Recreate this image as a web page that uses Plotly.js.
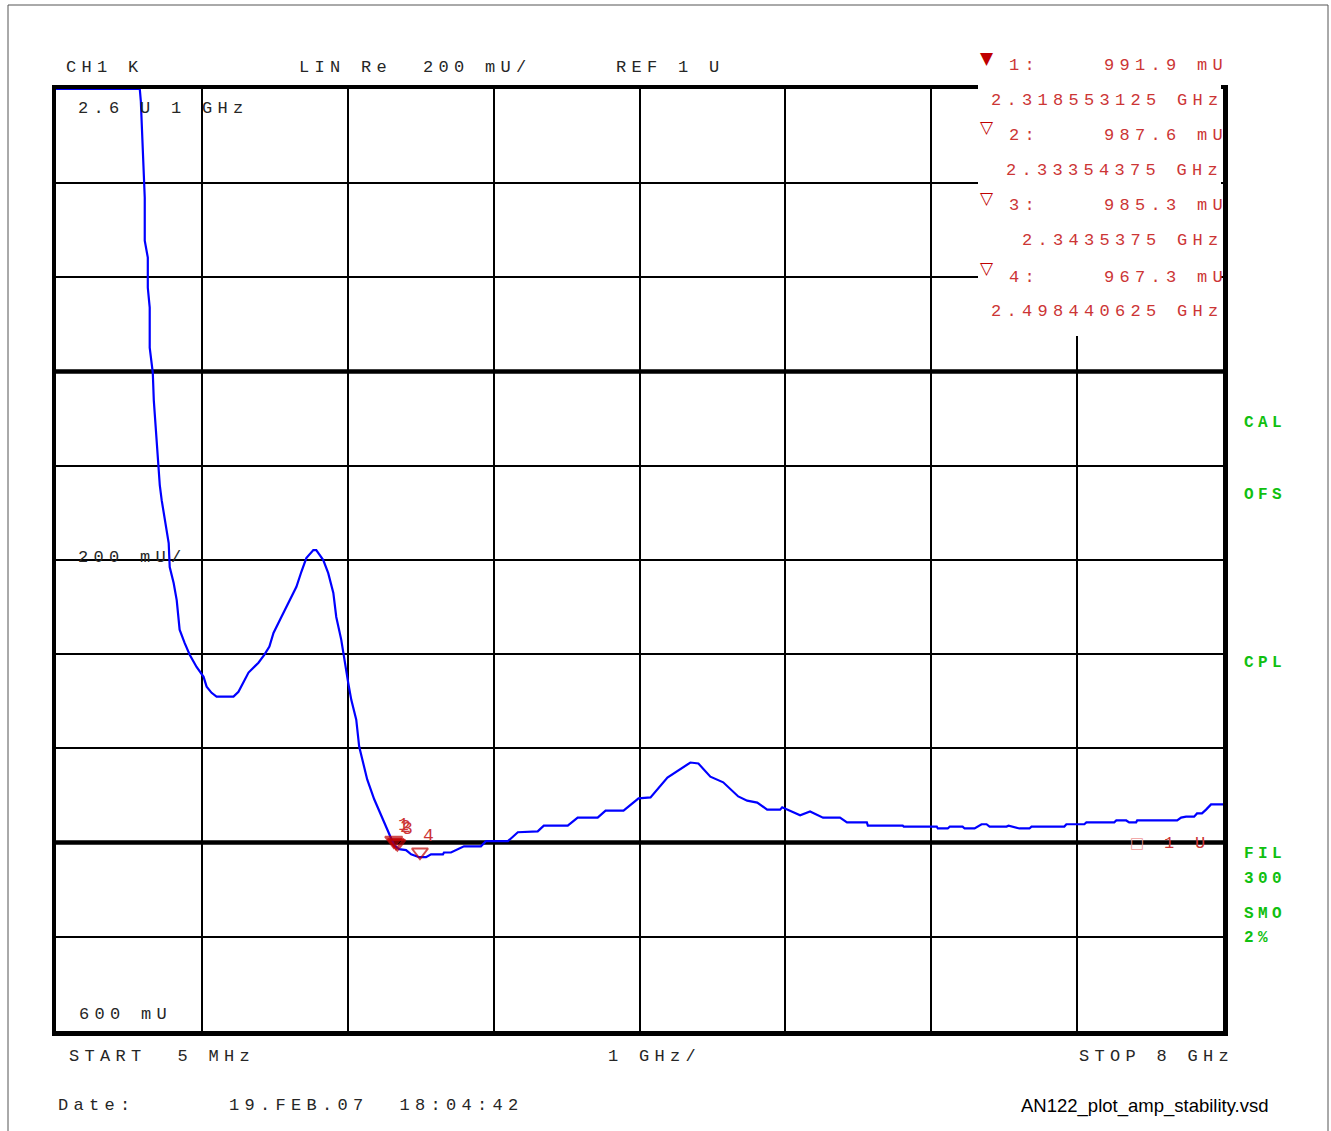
<!DOCTYPE html>
<html>
<head>
<meta charset="utf-8">
<script src="https://cdn.plot.ly/plotly-3.0.1.min.js"></script>
<style>html,body{margin:0;padding:0;background:#fff;}</style>
</head>
<body>
<div id="chart" style="width:1331px;height:1131px;"></div>
<script>
// ---------------- data ----------------
const freqGHz = [
  0.005,0.579,0.586,0.593,0.606,0.613,0.613,0.634,0.634,0.647,
  0.647,0.668,0.675,0.688,0.702,0.716,0.729,0.750,0.777,0.784,
  0.811,0.832,0.845,0.852,0.886,0.921,0.968,1.016,1.037,1.071,
  1.105,1.221,1.255,1.296,1.324,1.392,1.433,1.467,1.495,1.549,
  1.604,1.652,1.686,1.720,1.768,1.788,1.836,1.870,1.905,1.925,
  1.959,1.980,2.007,2.028,2.062,2.082,2.110,2.137,2.185,2.246,
  2.287,2.322,2.356,2.403,2.438,2.492,2.540,2.574,2.656,2.663,
  2.711,2.759,2.800,2.916,2.950,3.101,3.169,3.305,3.347,3.511,
  3.579,3.716,3.770,3.893,3.996,4.078,4.194,4.351,4.406,4.488,
  4.576,4.679,4.740,4.809,4.877,4.966,4.980,5.103,5.171,5.260,
  5.376,5.424,5.560,5.567,5.806,5.813,6.039,6.046,6.114,6.128,
  6.216,6.230,6.298,6.346,6.380,6.401,6.517,6.531,6.606,6.674,
  6.688,6.913,6.927,7.050,7.064,7.255,7.269,7.337,7.357,7.405,
  7.412,7.686,7.713,7.747,7.802,7.822,7.856,7.884,7.918,8.000
];
const valueU = [
  2.600,2.600,2.575,2.517,2.447,2.369,2.278,2.242,2.178,2.136,
  2.051,1.998,1.939,1.875,1.812,1.759,1.727,1.685,1.636,1.585,
  1.551,1.515,1.479,1.452,1.424,1.399,1.373,1.352,1.331,1.318,
  1.310,1.310,1.320,1.346,1.361,1.382,1.399,1.416,1.445,1.479,
  1.515,1.543,1.575,1.604,1.621,1.621,1.600,1.572,1.530,1.479,
  1.431,1.388,1.339,1.303,1.261,1.204,1.166,1.134,1.092,1.049,
  1.017,0.994,0.986,0.984,0.975,0.969,0.969,0.975,0.975,0.979,
  0.979,0.986,0.992,0.992,1.003,1.003,1.022,1.024,1.036,1.036,
  1.053,1.053,1.068,1.068,1.094,1.096,1.138,1.170,1.168,1.140,
  1.128,1.098,1.089,1.085,1.070,1.070,1.075,1.058,1.066,1.053,
  1.053,1.043,1.043,1.036,1.036,1.034,1.034,1.030,1.030,1.034,
  1.034,1.030,1.030,1.039,1.039,1.034,1.034,1.036,1.030,1.030,
  1.034,1.034,1.039,1.039,1.043,1.043,1.047,1.047,1.043,1.043,
  1.047,1.047,1.053,1.055,1.055,1.062,1.062,1.070,1.081,1.081
];
const markerNames   = ['1', '2', '3', '4'];
const markerFreqGHz = [2.318553125, 2.33354375, 2.3435375, 2.498440625];
const markerValueU  = [0.9919, 0.9876, 0.9853, 0.9673];

const startGHz = 0.005, stopGHz = 8, freqDivs = 8;
const topU = 2.6, bottomU = 0.6, perDivU = 0.2;
const thickLevelsU = [1.0, 2.0];

const headerLabels = ['CH1 K', 'LIN Re  200 mU/', 'REF 1 U'];
const scaleLabels  = ['2.6 U 1 GHz', '200 mU/', '600 mU'];
const footerLabels = ['START  5 MHz', '1 GHz/', 'STOP 8 GHz'];
const dateLabels   = ['Date:', '19.FEB.07  18:04:42'];
const fileLabel    = 'AN122_plot_amp_stability.vsd';
const statusLabels = ['CAL', 'OFS', 'CPL', 'FIL', '300', 'SMO', '2%'];
const refLabel     = '1 U';

// ---------------- layout helpers ----------------
const W = 1331, H = 1131;
const PL = 56, PR = 1223, PT = 89, PB = 1031;
const px2x = p => (p - PL) / (PR - PL);
const py2y = p => (PB - p) / (PB - PT);
const MONO = 'Liberation Mono';
const ADV = 10.2, SP = 5.3, PITCH = ADV + SP;

function spaced(t, s) {
  return '<span style="letter-spacing:' + s + 'px">' + t.replace(/ /g, '\u00A0') + '</span>';
}
function monoText(t, xpx, ypx, color, size, s) {
  return {
    text: spaced(t, s === undefined ? SP : s), xref: 'paper', yref: 'paper',
    x: px2x(xpx), y: py2y(ypx), xanchor: 'left', yanchor: 'middle',
    showarrow: false, borderpad: 0,
    font: {family: MONO, size: size || 17, color: color || '#262626'}
  };
}

const annotations = [];
// header
annotations.push(monoText(headerLabels[0], 65, 68));
annotations.push(monoText(headerLabels[1], 298, 68));
annotations.push(monoText(headerLabels[2], 615, 68));
// scale labels inside plot
annotations.push(monoText(scaleLabels[0], 77, 108));
annotations.push(monoText(scaleLabels[1], 77, 557));
annotations.push(monoText(scaleLabels[2], 78, 1014));
// footer
annotations.push(monoText(footerLabels[0], 68, 1056));
annotations.push(monoText(footerLabels[1], 607, 1056));
annotations.push(monoText(footerLabels[2], 1078, 1056));
annotations.push(monoText(dateLabels[0], 57, 1105));
annotations.push(monoText(dateLabels[1], 228, 1105));
annotations.push({
  text: fileLabel, xref: 'paper', yref: 'paper', x: px2x(1270), y: py2y(1106),
  xanchor: 'right', yanchor: 'middle', showarrow: false, borderpad: 0,
  font: {family: 'Liberation Sans', size: 18.5, color: '#000'}
});

// marker readout (red)
const RED = '#cc3535', DARKRED = '#c00000';
const rowY = [[66, 100], [135, 170], [206, 241], [277, 312]];
const triY = [58, 127, 198, 268];
markerNames.forEach((n, i) => {
  annotations.push({
    text: i === 0 ? '\u25BC' : '\u25BD', xref: 'paper', yref: 'paper',
    x: px2x(987), y: py2y(triY[i]), xanchor: 'center', yanchor: 'middle',
    showarrow: false, borderpad: 0,
    font: {family: 'DejaVu Sans', size: 17, color: DARKRED, weight: 'bold'}
  });
  annotations.push(monoText(n + ':', 1008, rowY[i][0], RED));
  const v = (markerValueU[i] * 1000).toFixed(1) + ' mU';
  annotations.push(monoText(v, 1222 - ADV - (v.length - 1) * PITCH, rowY[i][0], RED));
  const f = String(markerFreqGHz[i]) + ' GHz';
  annotations.push(monoText(f, 1217 - ADV - (f.length - 1) * PITCH, rowY[i][1], RED));
  // marker number next to the marker on the trace
  annotations.push({
    text: n, xref: 'x', yref: 'y', x: markerFreqGHz[i], y: markerValueU[i],
    xshift: i === 3 ? 9 : 10, yshift: i === 3 ? 22 : 21,
    xanchor: 'center', yanchor: 'middle', showarrow: false, borderpad: 0,
    font: {family: MONO, size: 18, color: RED}
  });
});

// reference level indicator
annotations.push({
  text: '\u25A1', xref: 'paper', yref: 'paper', x: px2x(1137), y: py2y(843),
  xanchor: 'center', yanchor: 'middle', showarrow: false, borderpad: 0,
  font: {family: 'DejaVu Sans', size: 15, color: '#f09a9a'}
});
annotations.push(monoText(refLabel, 1163, 843, RED));

// status labels (green, bold)
const statusY = [423, 495, 663, 854, 879, 914, 938];
statusLabels.forEach((s, i) => {
  annotations.push({
    text: '<b>' + spaced(s, 4.4) + '</b>', xref: 'paper', yref: 'paper',
    x: px2x(1243), y: py2y(statusY[i]), xanchor: 'left', yanchor: 'middle',
    showarrow: false, borderpad: 0,
    font: {family: 'Liberation Mono', size: 16, color: '#10c010', weight: 'bold'}
  });
});

// shapes
const shapes = [];
thickLevelsU.forEach(v => shapes.push({
  type: 'line', xref: 'paper', yref: 'y', x0: 0, x1: 1, y0: v, y1: v,
  line: {color: '#000', width: 4.5}, layer: 'between'
}));
// white boxes behind in-plot labels (hide grid, keep trace)
shapes.push({type: 'rect', xref: 'paper', yref: 'paper',
  x0: px2x(195), x1: px2x(210), y0: py2y(118), y1: py2y(90),
  fillcolor: '#fff', line: {width: 0}, layer: 'between'});
shapes.push({type: 'rect', xref: 'paper', yref: 'paper',
  x0: px2x(65), x1: px2x(177), y0: py2y(570), y1: py2y(550),
  fillcolor: '#fff', line: {width: 0}, layer: 'between'});
// marker readout box
shapes.push({type: 'rect', xref: 'paper', yref: 'paper',
  x0: px2x(978), x1: px2x(1221), y0: py2y(336), y1: py2y(83),
  fillcolor: '#fff', line: {width: 0}, layer: 'above'});
// outer frame
shapes.push({type: 'rect', xref: 'paper', yref: 'paper',
  x0: px2x(8), x1: px2x(1328), y0: py2y(1140), y1: py2y(5),
  fillcolor: 'rgba(0,0,0,0)', line: {color: '#555', width: 1}, layer: 'above'});

const traces = [
  {
    x: freqGHz, y: valueU, type: 'scatter', mode: 'lines',
    line: {color: '#0000ff', width: 2.2}, hoverinfo: 'skip'
  },
  {
    x: markerFreqGHz, y: markerValueU, type: 'scatter', mode: 'markers',
    cliponaxis: false,
    marker: {
      symbol: ['triangle-up', 'triangle-up-open', 'triangle-up-open', 'triangle-up-open'],
      angle: 180, standoff: 6,
      size: [15, 14, 14, 14], color: DARKRED, line: {color: DARKRED, width: 2}
    },
    hoverinfo: 'skip'
  }
];

const axisCommon = {
  showgrid: true, gridcolor: '#000', gridwidth: 2,
  showline: true, linecolor: '#000', linewidth: 4.5, mirror: true,
  showticklabels: false, ticks: '', zeroline: false, fixedrange: true,
  layer: 'below traces'
};

const layout = {
  width: W, height: H,
  margin: {l: PL, r: W - PR, t: PT, b: H - PB, pad: 0},
  paper_bgcolor: '#fff', plot_bgcolor: '#fff',
  showlegend: false, hovermode: false,
  xaxis: Object.assign({}, axisCommon, {
    range: [startGHz, stopGHz], tick0: startGHz, dtick: (stopGHz - startGHz) / freqDivs
  }),
  yaxis: Object.assign({}, axisCommon, {
    range: [bottomU, topU], tick0: bottomU, dtick: perDivU
  }),
  shapes: shapes,
  annotations: annotations
};

Plotly.newPlot('chart', traces, layout, {displayModeBar: false, staticPlot: true});
</script>
</body>
</html>
